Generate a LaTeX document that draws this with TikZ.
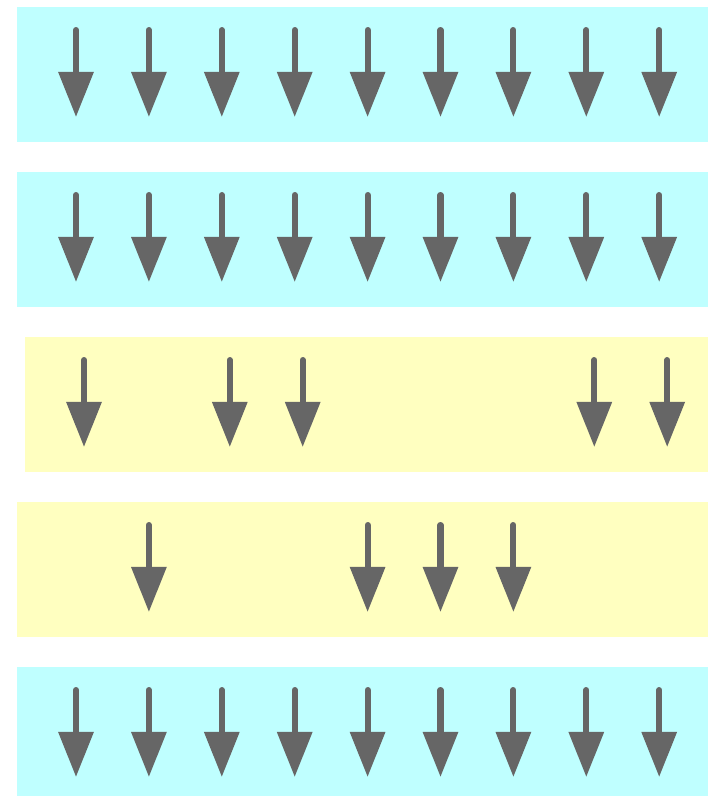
\documentclass[tikz,border=0pt]{standalone}
\usetikzlibrary{arrows.meta}

\definecolor{bandcyan}{HTML}{BFFFFF}
\definecolor{bandyellow}{HTML}{FFFFC0}
\definecolor{spingray}{HTML}{666666}

\begin{document}
\begin{tikzpicture}[x=0.01cm, y=-0.01cm,
  spin/.style={spingray, line width=0.06cm, line cap=round,
    -{Triangle[length=0.45cm, width=0.34cm]}}]

\def\dx{72.9}   % arrow pitch
\def\dy{165}    % band pitch
\def\bh{135}    % band height

\useasboundingbox (0,0) rectangle (708,796);

% bands: row / colour / x-shift / arrow slots
\foreach \r/\col/\sh/\slots in {
  0/bandcyan/0/{1,2,3,4,5,6,7,8,9},
  1/bandcyan/0/{1,2,3,4,5,6,7,8,9},
  2/bandyellow/8/{1,3,4,8,9},
  3/bandyellow/0/{2,5,6,7},
  4/bandcyan/0/{1,2,3,4,5,6,7,8,9}}
{
  \pgfmathsetmacro{\yy}{7+\r*\dy}
  \fill[\col] (17+\sh, \yy) rectangle (708, \yy+\bh);
  % arrows in the occupied slots
  \foreach \k in \slots {
    \pgfmathsetmacro{\xx}{76+\sh+(\k-1)*\dx}
    \draw[spin] (\xx, \yy+23) -- (\xx, \yy+110);
  }
}

\end{tikzpicture}
\end{document}
